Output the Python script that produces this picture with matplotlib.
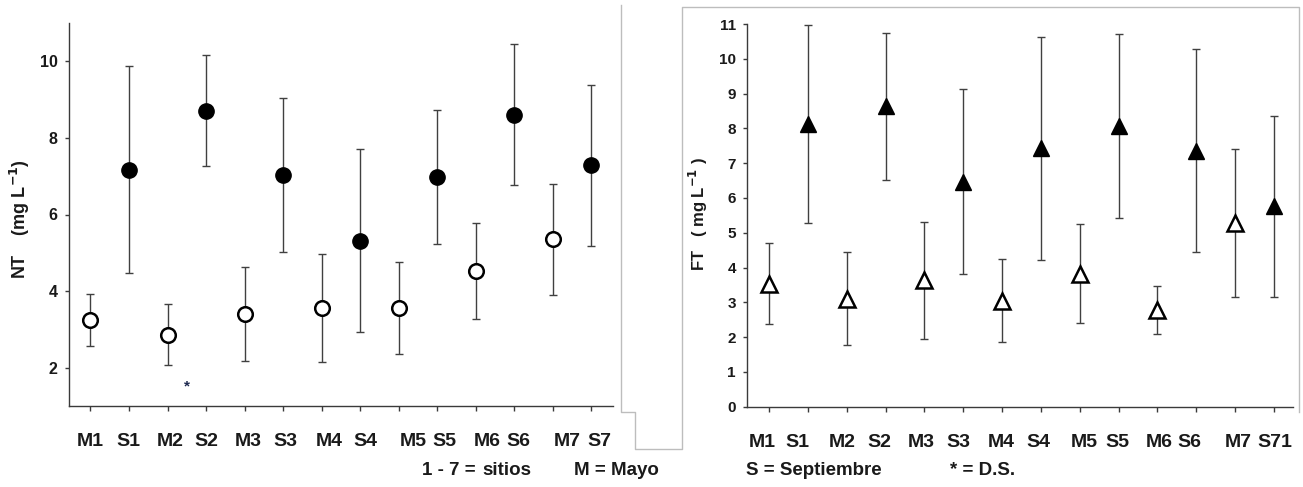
import numpy as np
import matplotlib
matplotlib.use('Agg')
import matplotlib.pyplot as plt
from matplotlib.lines import Line2D
from matplotlib.transforms import ScaledTranslation

plt.rcParams['font.family'] = ['Liberation Sans', 'DejaVu Sans']
plt.rcParams['font.weight'] = 'bold'
plt.rcParams['mathtext.fontset'] = 'dejavusans'
plt.rcParams['mathtext.default'] = 'bf'

### Data (mean +/- D.S.), sites 1-7, M = Mayo, S = Septiembre
nt_mayo = [3.24, 2.86, 3.40, 3.57, 3.55, 4.53, 5.35]
nt_mayo_sd = [0.68, 0.80, 1.23, 1.41, 1.20, 1.25, 1.44]
nt_sept = [7.17, 8.71, 7.04, 5.32, 6.99, 8.61, 7.29]
nt_sept_sd = [2.70, 1.45, 2.01, 2.40, 1.75, 1.85, 2.10]

ft_mayo = [3.54, 3.11, 3.64, 3.05, 3.82, 2.78, 5.28]
ft_mayo_sd = [1.16, 1.33, 1.68, 1.20, 1.42, 0.68, 2.13]
ft_sept = [8.13, 8.63, 6.46, 7.43, 8.07, 7.36, 5.76]
ft_sept_sd = [2.84, 2.10, 2.66, 3.20, 2.64, 2.92, 2.60]

nt_labels = ['M1', 'S1', 'M2', 'S2', 'M3', 'S3', 'M4', 'S4', 'M5', 'S5', 'M6', 'S6', 'M7', 'S7']
ft_labels = ['M1', 'S1', 'M2', 'S2', 'M3', 'S3', 'M4', 'S4', 'M5', 'S5', 'M6', 'S6', 'M7', 'S71']

# label offsets in pixels (labels were typed by hand in the original)
nt_label_shift = [0, -1, 3, 0, 4, 2, 8, 5, 15, 7, 11, 4, 14, 8]
ft_label_shift = [-7, -10, -4, -6, -3, -5, -1, -3, 5, -1, 2, -7, 3, 1]

W, H = 1303, 487
fig = plt.figure(figsize=(W / 100, H / 100), dpi=100)

pos_m = np.arange(1, 15, 2)
pos_s = np.arange(2, 15, 2)

bar_kw = dict(fmt='none', ecolor='#404040', elinewidth=1.0, capsize=2.6, capthick=1.0, zorder=2)
ink = '#1a1a1a'


def style_axis(ax, labels, shifts, ysize):
    for side in ['top', 'right']:
        ax.spines[side].set_visible(False)
    for side in ['left', 'bottom']:
        ax.spines[side].set_color('#3a3a3a')
        ax.spines[side].set_linewidth(1.0)
    ax.set_xticks(np.arange(1, 15))
    ax.set_xticklabels(labels, fontsize=14, fontweight='bold', color=ink)
    ax.tick_params(axis='x', direction='out', length=3.6, width=1.0, color='#3a3a3a', pad=16)
    ax.tick_params(axis='y', direction='out', length=3, width=1.0, color='#3a3a3a', pad=5,
                   labelcolor=ink)
    for lab in ax.get_yticklabels():
        lab.set_fontsize(ysize)
        lab.set_fontweight('bold')
    for lab, dx in zip(ax.get_xticklabels(), shifts):
        lab.set_transform(lab.get_transform() + ScaledTranslation(dx / 100, 0, fig.dpi_scale_trans))


### NT panel
ax1 = fig.add_axes([68.5 / W, 81 / H, 544.5 / W, 383 / H])
ax1.errorbar(pos_m, nt_mayo, yerr=nt_mayo_sd, **bar_kw)
ax1.errorbar(pos_s, nt_sept, yerr=nt_sept_sd, **bar_kw)
ax1.plot(pos_m, nt_mayo, 'o', ms=10.5, mfc='white', mec='black', mew=1.8, zorder=3)
ax1.plot(pos_s, nt_sept, 'o', ms=11, mfc='black', mec='black', zorder=3)
ax1.set_xlim(0.43, 14.56)
ax1.set_ylim(1, 11)
ax1.set_yticks([2, 4, 6, 8, 10])
style_axis(ax1, nt_labels, nt_label_shift, 11.5)
ax1.set_ylabel('NT    (mg L$^{-1}$)', fontsize=13, fontweight='bold', color=ink)
ax1.yaxis.set_label_coords(-0.067, 0.488)
ax1.text(3.5, 1.5, '*', fontsize=11, color='#1f2a50', ha='center', va='center')

### FT panel
ax2 = fig.add_axes([747 / W, 80.3 / H, 546 / W, 382.7 / H])
ax2.errorbar(pos_m, ft_mayo, yerr=ft_mayo_sd, **bar_kw)
ax2.errorbar(pos_s, ft_sept, yerr=ft_sept_sd, **bar_kw)
ax2.plot(pos_m, ft_mayo, '^', ms=11.5, mfc='white', mec='black', mew=1.8, zorder=3)
ax2.plot(pos_s, ft_sept, '^', ms=11, mfc='black', mec='black', zorder=3)
ax2.set_xlim(0.434, 14.49)
ax2.set_ylim(0, 11)
ax2.set_yticks(np.arange(0, 12))
style_axis(ax2, ft_labels, ft_label_shift, 11)
ax2.set_ylabel('FT   ( mg L$^{-1}$ )', fontsize=12, fontweight='bold', color=ink)
ax2.yaxis.set_label_coords(-0.068, 0.503)

### gray frame lines left from the original layout
frame_x = [621, 621, 635, 635, 682, 682, 1299, 1299]
frame_y = [5, 412, 412, 449, 449, 7, 7, 412]
fig.add_artist(Line2D([x / W for x in frame_x], [1 - y / H for y in frame_y],
                      transform=fig.transFigure, color='#bdbdbd', lw=1.0))

### bottom legend text
yb = 1 - 475 / H
for x, s in [(422, '1 - 7 ='), (482, 'sitios'), (574, 'M = Mayo'),
             (746, 'S = Septiembre'), (950, '* = D.S.')]:
    fig.text(x / W, yb, s, fontsize=13.5, fontweight='bold', color=ink, ha='left', va='baseline')

fig.savefig('out.png', dpi=100)
